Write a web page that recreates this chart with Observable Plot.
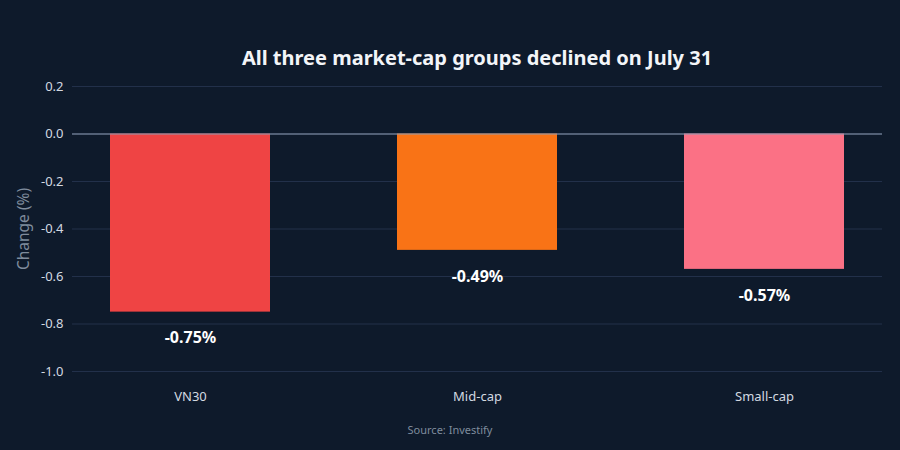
<!DOCTYPE html>
<html>
<head>
<meta charset="utf-8">
<script src="https://cdn.jsdelivr.net/npm/d3@7"></script>
<script src="https://cdn.jsdelivr.net/npm/@observablehq/plot@0.6"></script>
<style>
  html, body { margin: 0; padding: 0; background: #0e1a2b; }
  #wrap { width: 900px; height: 450px; background: #0e1a2b; font-family: "Noto Sans", "Open Sans", sans-serif; position: relative; overflow: hidden; }
  #title { height: 70px; box-sizing: border-box; padding-top: 45px; padding-left: 72px; width: 882px; text-align: center; color: #f3f5f8; font-size: 20px; font-weight: 700; line-height: 26px; }
  #caption { text-align: center; color: #7f8c9d; font-size: 11px; line-height: 14px; padding-top: 13px; }
  svg { display: block; }
</style>
</head>
<body>
<div id="wrap">
  <div id="title">All three market-cap groups declined on July 31</div>
  <div id="chart"></div>
  <div id="caption">Source: Investify</div>
</div>
<script>
// Daily change by market-cap group
const groups = ["VN30", "Mid-cap", "Small-cap"];
const changes = [-0.75, -0.49, -0.57];
const colors = ["#ef4444", "#f97316", "#fb7185"];
const yTicks = [0.2, 0.0, -0.2, -0.4, -0.6, -0.8, -1.0];

const rows = groups.map((g, i) => ({ group: g, change: changes[i], color: colors[i] }));

const chart = Plot.plot({
  width: 900,
  height: 340,
  marginTop: 16,
  marginBottom: 39,
  marginLeft: 72,
  marginRight: 18,
  style: { background: "transparent", fontFamily: "'Noto Sans', 'Open Sans', sans-serif", fontSize: "13px", color: "#d3d9e1" },
  x: { domain: groups, paddingInner: 0.441, paddingOuter: 0.127, label: null },
  y: { domain: [-1.0, 0.2], label: null },
  marks: [
    Plot.gridY(yTicks, { stroke: "#22304a", strokeOpacity: 1, strokeWidth: 1 }),
    Plot.barY(rows, { x: "group", y: "change", fill: "color" }),
    Plot.ruleY([0], { stroke: "#8b9bb1", strokeWidth: 1.2 }),
    Plot.text(rows, {
      x: "group", y: "change",
      text: d => d.change.toFixed(2) + "%",
      dy: 26, fill: "#ffffff", fontWeight: 700, fontSize: 16
    }),
    Plot.axisY(yTicks, { tickSize: 0, tickPadding: 9, tickFormat: d => d.toFixed(1), fill: "#d3d9e1", fontSize: 13, label: null }),
    Plot.axisX({ tickSize: 0, tickPadding: 20, fill: "#d3d9e1", fontSize: 13, label: null }),
    Plot.text(["Change (%)"], {
      frameAnchor: "left", textAnchor: "middle", dx: -48, rotate: -90,
      fill: "#7f8c9d", fontSize: 15.5
    })
  ]
});
document.getElementById("chart").appendChild(chart);
</script>
</body>
</html>
